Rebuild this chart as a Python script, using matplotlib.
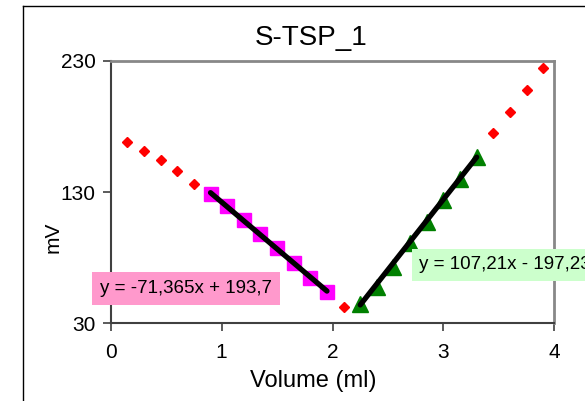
import matplotlib
matplotlib.use("Agg")
import matplotlib.pyplot as plt
from matplotlib.lines import Line2D
import numpy as np

plt.rcParams['font.family'] = ['Liberation Sans', 'DejaVu Sans']

# Data
red_x = [0.15, 0.30, 0.45, 0.60, 0.75, 2.10, 3.45, 3.60, 3.75, 3.90]
red_y = [167.8, 161.0, 154.1, 145.7, 136.3, 42.3, 174.6, 191.1, 207.8, 224.3]
mag_x = [0.90, 1.05, 1.20, 1.35, 1.50, 1.65, 1.80, 1.95]
mag_y = [128.5, 119.0, 108.7, 98.3, 87.4, 76.2, 64.8, 53.5]
grn_x = [2.25, 2.40, 2.55, 2.70, 2.85, 3.00, 3.15, 3.30]
grn_y = [44.5, 58.0, 73.0, 91.5, 107.0, 124.0, 140.0, 157.0]
fit1 = (-71.365, 193.7)
fit2 = (107.21, -197.23)
label1 = "y = -71,365x + 193,7"
label2 = "y = 107,21x - 197,23"
title = "S-TSP_1"
xlabel = "Volume (ml)"
ylabel = "mV"
xticks = [0, 1, 2, 3, 4]
yticks = [30, 130, 230]

fig = plt.figure(figsize=(5.85, 4.01), dpi=100)
W, H = 585, 401
ax = fig.add_axes([110.7 / W, 1 - 323.3 / H, (554.3 - 110.7) / W, (323.3 - 60.7) / H])

# outer chart frame
fig.add_artist(Line2D([23 / W, 23 / W], [0, 1 - 5.5 / H], color='black', lw=1.0, transform=fig.transFigure))
fig.add_artist(Line2D([23 / W, 1], [1 - 5.5 / H, 1 - 5.5 / H], color='black', lw=1.0, transform=fig.transFigure))

ax.plot(red_x, red_y, linestyle='none', marker='D', color='#FF0000', markersize=5.5, zorder=3)
ax.plot(mag_x, mag_y, linestyle='none', marker='s', color='#FF00FF', markersize=10, zorder=3)
ax.plot(grn_x, grn_y, linestyle='none', marker='^', color='#008000', markersize=11, zorder=3)

x1 = np.array([mag_x[0], mag_x[-1]])
ax.plot(x1, fit1[0] * x1 + fit1[1], color='black', lw=3.8, solid_capstyle='round', zorder=4)
x2 = np.array([grn_x[0], grn_x[-1]])
ax.plot(x2, fit2[0] * x2 + fit2[1], color='black', lw=3.8, solid_capstyle='round', zorder=4)

ax.set_xlim(0, 4)
ax.set_ylim(30, 230)
ax.set_xticks(xticks)
ax.set_yticks(yticks)
ax.tick_params(axis='both', direction='out', length=6, width=1.2, color='#404040',
               labelsize=15, labelcolor='black')
ax.tick_params(axis='x', pad=8)
ax.tick_params(axis='y', pad=5)
for s in ['left', 'bottom']:
    ax.spines[s].set_color('#404040')
    ax.spines[s].set_linewidth(1.5)
for s in ['top', 'right']:
    ax.spines[s].set_color('#888888')
    ax.spines[s].set_linewidth(2.0)

fig.text(311 / W, 1 - 38 / H, title, fontsize=20, ha='center', va='center')
fig.text(313.5 / W, 1 - 381 / H, xlabel, fontsize=17, ha='center', va='center')
fig.text(53 / W, 1 - 237.5 / H, ylabel, fontsize=15, ha='center', va='center', rotation=90)

ax.text(0.679, 56.3, label1, fontsize=13.5, ha='center', va='center', zorder=5, clip_on=False,
        bbox=dict(boxstyle='square,pad=0.42', fc='#FF99CC', ec='none'))
ax.text(2.78, 74.5, label2, fontsize=13.5, ha='left', va='center', zorder=5, clip_on=False,
        bbox=dict(boxstyle='square,pad=0.4', fc='#CCFFCC', ec='none'))

fig.savefig('out.png', dpi=100)
